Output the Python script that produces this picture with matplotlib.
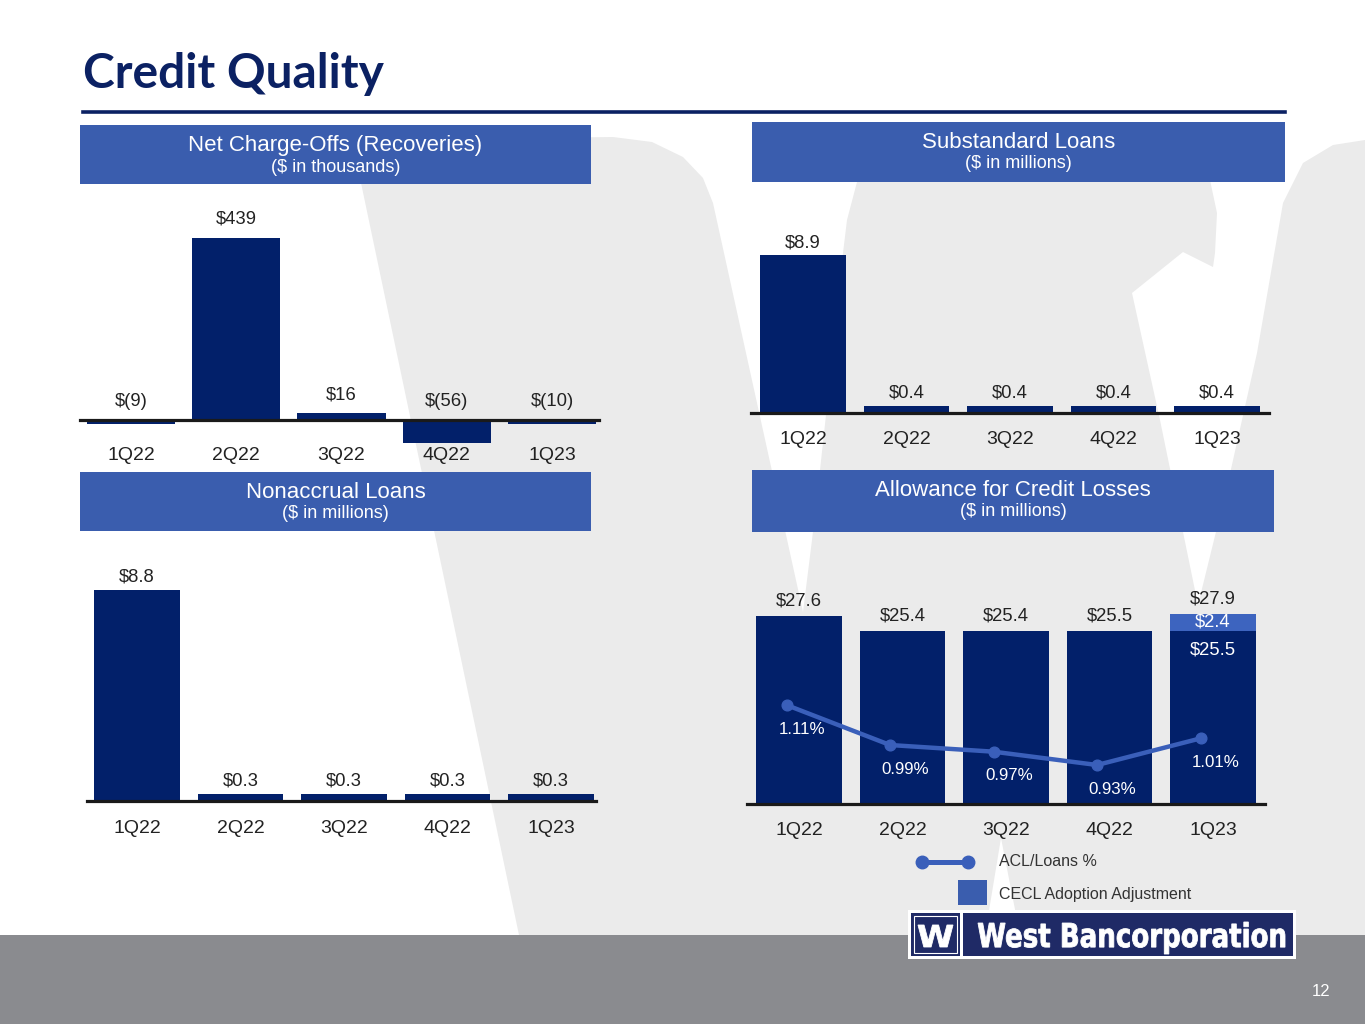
import matplotlib.pyplot as plt
from matplotlib.patches import Rectangle, Polygon, PathPatch
from matplotlib.lines import Line2D
from matplotlib.textpath import TextPath
from matplotlib.font_manager import FontProperties
from matplotlib.transforms import Affine2D

# ---- data ----
quarters = ['1Q22', '2Q22', '3Q22', '4Q22', '1Q23']
net_charge_offs = [-9, 439, 16, -56, -10]
nco_labels = ['$(9)', '$439', '$16', '$(56)', '$(10)']
substandard = [8.9, 0.4, 0.4, 0.4, 0.4]
nonaccrual = [8.8, 0.3, 0.3, 0.3, 0.3]
acl_base = [27.6, 25.4, 25.4, 25.5, 25.5]
cecl_adj = [0, 0, 0, 0, 2.4]
acl_pct = [1.11, 0.99, 0.97, 0.93, 1.01]

NAVY = '#02206a'
TITLE = '#0b2163'
HEADER = '#3a5dae'
LIGHT = '#3d64bf'
LINE = '#3a5fba'
WM_GRAY = '#ebebeb'
TXT = '#222222'
W, H = 1365, 1024

plt.rcParams['font.family'] = ['Liberation Sans', 'DejaVu Sans']
fig = plt.figure(figsize=(W / 100, H / 100), dpi=100)


def fxy(x, y):
    return (x / W, 1 - y / H)


def px_rect(x0, y0, x1, y1, **kw):
    r = Rectangle(fxy(x0, y1), (x1 - x0) / W, (y1 - y0) / H,
                  transform=fig.transFigure, **kw)
    fig.add_artist(r)
    return r


# background "W" watermark
wm = [(352, 140), (613, 137), (652, 142), (683, 157), (703, 178), (713, 203),
      (803, 612), (812, 540), (820, 470), (832, 360), (843, 253), (847, 220),
      (857, 182), (872, 155), (900, 138), (1170, 138), (1195, 150), (1210, 180),
      (1217, 213), (1215, 253), (1213, 267), (1183, 252), (1132, 293),
      (1160, 420), (1198, 605), (1227, 487), (1257, 353), (1283, 203),
      (1303, 163), (1333, 145), (1365, 140), (1365, 935), (1020, 935),
      (1001, 838), (985, 935), (519, 935)]
fig.add_artist(Polygon([fxy(x, y) for x, y in wm], closed=True,
                       transform=fig.transFigure, facecolor=WM_GRAY,
                       edgecolor='none', zorder=-3))

# footer band
px_rect(0, 935, W, H, facecolor='#8a8b8f', edgecolor='none', zorder=-2)
fig.text(*fxy(1321, 991), '12', color='white', fontsize=12,
         ha='center', va='center')

# title and rule
fig.text(*fxy(83, 88), 'Credit Quality', fontsize=34.5, fontweight='bold',
         family=['Lato', 'DejaVu Sans'], color=TITLE, va='baseline')
fig.add_artist(Line2D([83 / W, 1285 / W], [1 - 112 / H] * 2, lw=2.6,
                      color=TITLE, transform=fig.transFigure))


def header(x0, y0, x1, y1, title, sub):
    px_rect(x0, y0, x1, y1, facecolor=HEADER, edgecolor='none', zorder=-1)
    cx = (x0 + x1) / 2
    fig.text(*fxy(cx, y0 + 20), title, color='white', fontsize=16,
             ha='center', va='center')
    fig.text(*fxy(cx, y0 + 42), sub, color='white', fontsize=13,
             ha='center', va='center')


header(80, 125, 591, 184, 'Net Charge-Offs (Recoveries)', '($ in thousands)')
header(752, 122, 1285, 182, 'Substandard Loans', '($ in millions)')
header(80, 472, 591, 531, 'Nonaccrual Loans', '($ in millions)')
header(752, 470, 1274, 532, 'Allowance for Credit Losses', '($ in millions)')


def bar_axes(c0, c4, base_px, top_px, scale, label_px, line_span=(0, 1)):
    sp = (c4 - c0) / 4
    left, right = c0 - sp / 2, c4 + sp / 2
    ax = fig.add_axes([left / W, 1 - base_px / H, (right - left) / W,
                       (base_px - top_px) / H])
    ax.set_xlim(-0.5, 4.5)
    ax.set_ylim(0, (base_px - top_px) / scale)
    ax.set_facecolor('none')
    for s in ax.spines.values():
        s.set_visible(False)
    ax.set_yticks([])
    ax.set_xticks(range(len(quarters)), quarters)
    ax.tick_params(axis='x', length=0, labelsize=14, labelcolor=TXT,
                   pad=(label_px - base_px - 5.6) * 0.72)
    ax.axhline(0, xmin=line_span[0], xmax=line_span[1], color='#1a1a1a',
               lw=2.3, clip_on=False, zorder=3)
    return ax


def value_labels(ax, vals, texts, off_px):
    for i, (v, t) in enumerate(zip(vals, texts)):
        ax.annotate(t, (i, max(v, 0)), xytext=(0, off_px * 0.72),
                    textcoords='offset points', ha='center', va='center',
                    fontsize=13.3, color=TXT)


x = list(range(len(quarters)))

# Net charge-offs
ax1 = bar_axes(131, 552, 420, 200, 0.415, 453, (0.003, 0.99))
ax1.bar(x, net_charge_offs, width=0.84, color=NAVY, clip_on=False, zorder=2)
value_labels(ax1, net_charge_offs, nco_labels, 18.5)

# Substandard loans
ax2 = bar_axes(803, 1217, 413, 200, 17.75, 437)
ax2.bar(x, substandard, width=0.83, color=NAVY, zorder=2)
value_labels(ax2, substandard, [f'${v:.1f}' for v in substandard], 12.5)

# Nonaccrual loans
ax3 = bar_axes(137, 551, 801, 550, 24.0, 826, (0.003, 0.987))
ax3.bar(x, nonaccrual, width=0.83, color=NAVY, zorder=2)
value_labels(ax3, nonaccrual, [f'${v:.1f}' for v in nonaccrual], 12.5)

# Allowance for credit losses
ax4 = bar_axes(799, 1213, 804, 560, 6.8, 828)
ax4.bar(x, acl_base, width=0.83, color=NAVY, zorder=2)
ax4.bar(x, cecl_adj, bottom=acl_base, width=0.83, color=LIGHT, zorder=2)
totals = [b + c for b, c in zip(acl_base, cecl_adj)]
value_labels(ax4, totals, [f'${v:.1f}' for v in totals], 15)
for i, (b, c) in enumerate(zip(acl_base, cecl_adj)):
    if c > 0:
        ax4.text(i, b + c / 2, f'${c:.1f}', color='white', ha='center',
                 va='center', fontsize=13.3, zorder=5)
        ax4.annotate(f'${b:.1f}', (i, b), xytext=(0, -19 * 0.72),
                     textcoords='offset points', color='white', ha='center',
                     va='center', fontsize=13.3, zorder=5)

ax4b = ax4.twinx()
ax4b.set_ylim(0.93 + (765 - 804) / 333, 0.93 + (765 - 560) / 333)
ax4b.set_yticks([])
for s in ax4b.spines.values():
    s.set_visible(False)
ax4b.plot([i - 0.12 for i in x], acl_pct, color=LINE, lw=3.2, marker='o',
          ms=7.7, zorder=4)
for i, v in enumerate(acl_pct):
    ax4b.annotate(f'{v:.2f}%', (i, v), xytext=(2, -24 * 0.72),
                  textcoords='offset points', color='white', ha='center',
                  va='center', fontsize=12.2)

# legend
fig.add_artist(Line2D([922 / W, 968 / W], [1 - 862 / H] * 2, lw=3.6,
                      color=LINE, marker='o', ms=9, transform=fig.transFigure))
px_rect(958, 880, 987, 905, facecolor=HEADER, edgecolor='none')
fig.text(*fxy(999, 862), 'ACL/Loans %', fontsize=11.5, color='#333333',
         va='center')
fig.text(*fxy(999, 894), 'CECL Adoption Adjustment', fontsize=11.5,
         color='#333333', va='center')


# logo
def fit_text(s, x0, y0, x1, y1, weight='bold', family='DejaVu Sans'):
    tp = TextPath((0, 0), s, size=100,
                  prop=FontProperties(family=family, weight=weight))
    bb = tp.get_extents()
    sx = (x1 - x0) / bb.width
    sy = (y1 - y0) / bb.height
    tr = (Affine2D().translate(-bb.x0, -bb.y0).scale(sx / W, sy / H)
          .translate(x0 / W, 1 - y1 / H) + fig.transFigure)
    fig.add_artist(PathPatch(tp, transform=tr, facecolor='white',
                             edgecolor='white', lw=0.6, zorder=6))


px_rect(908, 910, 1296, 959, facecolor='white', edgecolor='none', zorder=4)
px_rect(911, 913, 960, 956, facecolor='#1f2a66', edgecolor='none', zorder=5)
px_rect(914, 916, 957, 953, facecolor='none', edgecolor='white', lw=0.8,
        zorder=5)
px_rect(963, 913, 1293, 956, facecolor='#1f2a66', edgecolor='none', zorder=5)
fit_text('W', 918, 925, 953, 947)
fit_text('West Bancorporation', 978, 922, 1285, 954)

fig.savefig('out.png', dpi=100)
